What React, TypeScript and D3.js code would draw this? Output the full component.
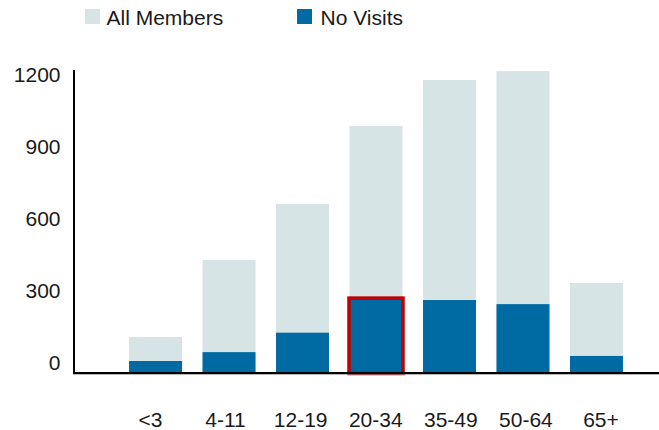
import React from "react";
import * as d3 from "d3";

const categories = ["<3", "4-11", "12-19", "20-34", "35-49", "50-64", "65+"];
const allMembers = [150, 471, 704, 1029, 1221, 1258, 375];
const noVisits = [50, 87, 168, 310, 304, 287, 71];
const yTicks = [0, 300, 600, 900, 1200];
const highlighted = "20-34";

const W = 659;
const H = 430;
const FONT = "'Liberation Sans', Arial, sans-serif";
const LIGHT = "#d7e4e6";
const DARK = "#006aa3";

export default function App() {
  const x = d3.scaleBand<string>().domain(categories).range([118.75, 633.25]).paddingInner(0.279).paddingOuter(0.14);
  const xLabel = d3.scalePoint<string>().domain(categories).range([150.5, 601]);
  const y = d3.scaleLinear().domain([0, 1200]).range([373, 85]);
  const bw = x.bandwidth();

  return (
    <svg width={W} height={H} style={{ position: "absolute", left: 0, top: 0, background: "#fff" }} fontFamily={FONT}>
      {/* legend */}
      <rect x={85} y={9} width={15} height={15} fill={LIGHT} />
      <text x={106.5} y={24.5} fontSize={21} fill="#1a1a1a">All Members</text>
      <rect x={297} y={9} width={15} height={15} fill={DARK} />
      <text x={320.5} y={24.5} fontSize={21} fill="#1a1a1a">No Visits</text>

      {/* bars */}
      {categories.map((c, i) => (
        <g key={c}>
          <rect x={x(c)} y={y(allMembers[i])} width={bw} height={y(0) - y(allMembers[i])} fill={LIGHT} />
          <rect x={x(c)} y={y(noVisits[i])} width={bw} height={y(0) - y(noVisits[i])} fill={DARK} />
        </g>
      ))}

      {/* highlight */}
      {categories.map((c, i) =>
        c === highlighted ? (
          <rect key={"h" + c} x={(x(c) as number) - 0.5} y={y(noVisits[i]) - 0.5} width={bw + 1} height={y(0) - y(noVisits[i]) + 1}
            fill="none" stroke="#c00000" strokeWidth={3.5} />
        ) : null
      )}

      {/* axes */}
      <line x1={74} x2={74} y1={70} y2={374} stroke="#000" strokeWidth={2} />
      <line x1={73} x2={659} y1={373} y2={373} stroke="#000" strokeWidth={2} />
      <line x1={73} x2={659} y1={374.5} y2={374.5} stroke="#888" strokeWidth={1} opacity={0.6} />

      {yTicks.map((t) => (
        <text key={t} x={60.5} y={y(t) - 10} dy="0.35em" textAnchor="end" fontSize={21} fill="#1a1a1a">{t}</text>
      ))}

      {categories.map((c) => (
        <text key={"l" + c} x={xLabel(c)} y={427} textAnchor="middle" fontSize={21} fill="#1a1a1a">{c}</text>
      ))}
    </svg>
  );
}
